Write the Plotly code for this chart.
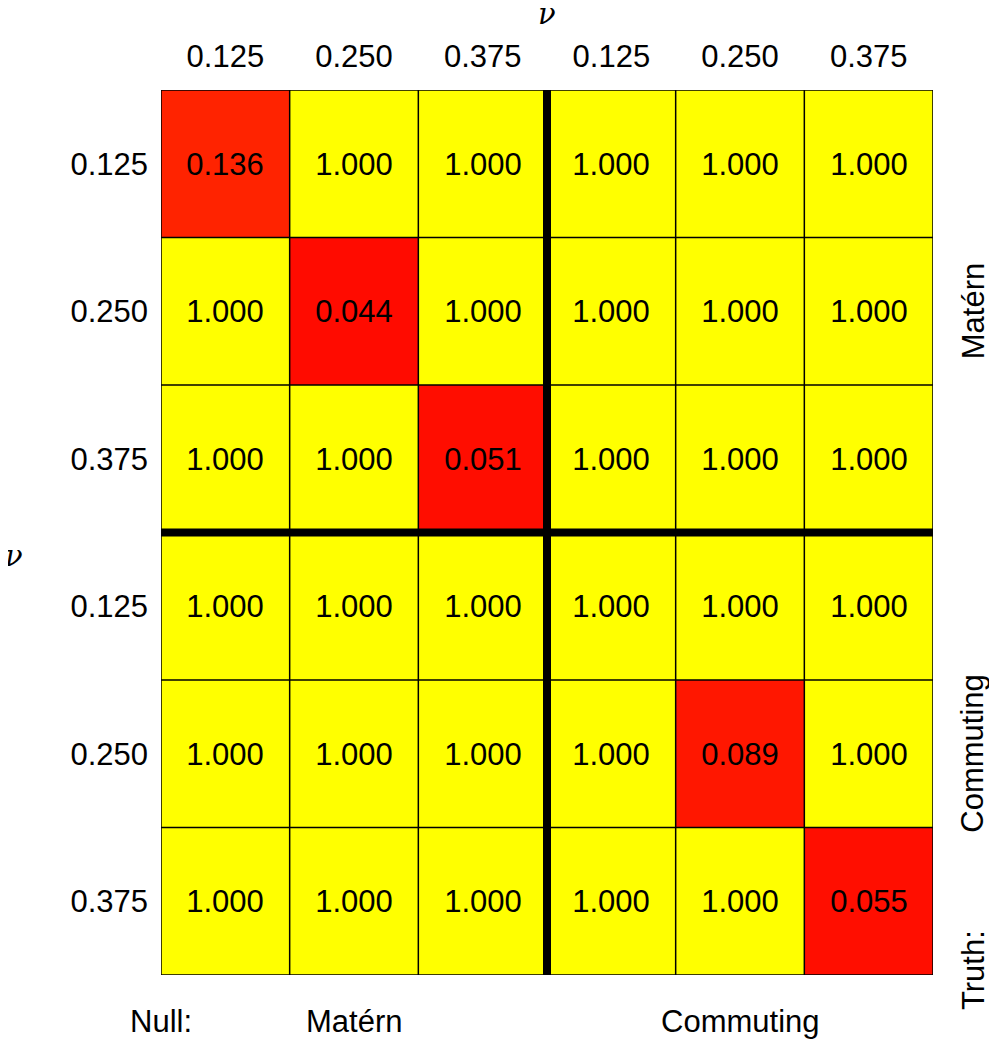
import plotly.graph_objects as go

# nu values for the columns (null model) and rows (true model)
nu_labels = ["0.125", "0.250", "0.375", "0.125", "0.250", "0.375"]
col_idx = [0, 1, 2, 3, 4, 5]
row_idx = [0, 1, 2, 3, 4, 5]

# rejection rates, rows = truth, cols = null
rates = [
    [0.136, 1.000, 1.000, 1.000, 1.000, 1.000],
    [1.000, 0.044, 1.000, 1.000, 1.000, 1.000],
    [1.000, 1.000, 0.051, 1.000, 1.000, 1.000],
    [1.000, 1.000, 1.000, 1.000, 1.000, 1.000],
    [1.000, 1.000, 1.000, 1.000, 0.089, 1.000],
    [1.000, 1.000, 1.000, 1.000, 1.000, 0.055],
]

FONT = "Liberation Sans"
FS = 31
NU_FONT = dict(family="DejaVu Serif", size=29)

fig = go.Figure()

fig.add_trace(go.Heatmap(
    z=rates, x=col_idx, y=row_idx,
    colorscale=[[0, "#FF0000"], [1, "#FFFF00"]],
    zmin=0, zmax=1,
    showscale=False,
    texttemplate="%{z:.3f}",
    textfont=dict(family=FONT, size=FS, color="black"),
    hoverinfo="skip",
))

# thin cell borders
for k in range(7):
    fig.add_shape(type="line", x0=k - 0.5, x1=k - 0.5, y0=-0.5, y1=5.5,
                  line=dict(color="black", width=1.5))
    fig.add_shape(type="line", y0=k - 0.5, y1=k - 0.5, x0=-0.5, x1=5.5,
                  line=dict(color="black", width=1.5))
# thick block separators
fig.add_shape(type="line", x0=2.5, x1=2.5, y0=-0.5, y1=5.5,
              line=dict(color="black", width=8))
fig.add_shape(type="line", y0=2.5, y1=2.5, x0=-0.5, x1=5.5,
              line=dict(color="black", width=8))

fig.update_xaxes(
    side="top", tickmode="array", tickvals=col_idx, ticktext=nu_labels,
    range=[-0.5, 5.5], showgrid=False, zeroline=False, ticks="",
    tickfont=dict(family=FONT, size=FS, color="black"), ticklabelstandoff=16,
)
fig.update_yaxes(
    tickmode="array", tickvals=row_idx, ticktext=nu_labels,
    range=[5.5, -0.5], showgrid=False, zeroline=False, ticks="",
    tickfont=dict(family=FONT, size=FS, color="black"), ticklabelstandoff=12,
)

ann = [
    dict(text="<i>ν</i>", x=0.5, y=1.0, yshift=76, font=dict(NU_FONT)),
    dict(text="<i>ν</i>", x=0, y=0.5, xshift=-147, yshift=-23, font=dict(NU_FONT)),
    dict(text="Matérn", x=1, y=0.75, xshift=40, textangle=-90, font=dict(family=FONT, size=FS)),
    dict(text="Commuting", x=1, y=0.25, xshift=40, textangle=-90, font=dict(family=FONT, size=FS)),
    dict(text="Truth:", x=1, y=0, xshift=40, yshift=5, textangle=-90, font=dict(family=FONT, size=FS)),
    dict(text="Null:", x=0, y=0, yshift=-46, font=dict(family=FONT, size=FS)),
    dict(text="Matérn", x=0.25, y=0, yshift=-46, font=dict(family=FONT, size=FS)),
    dict(text="Commuting", x=0.75, y=0, yshift=-46, font=dict(family=FONT, size=FS)),
]
for a in ann:
    a["showarrow"] = False
    a["xref"] = "paper"
    a["yref"] = "paper"
    a["xanchor"] = "center"
    a["yanchor"] = "middle"
    a["font"]["color"] = "black"
fig.update_layout(annotations=ann)

fig.update_layout(
    width=997, height=1044,
    margin=dict(l=153, r=72, t=82, b=77),
    plot_bgcolor="white", paper_bgcolor="white",
    font=dict(family=FONT, color="black"),
)

fig.write_html("out.html")
